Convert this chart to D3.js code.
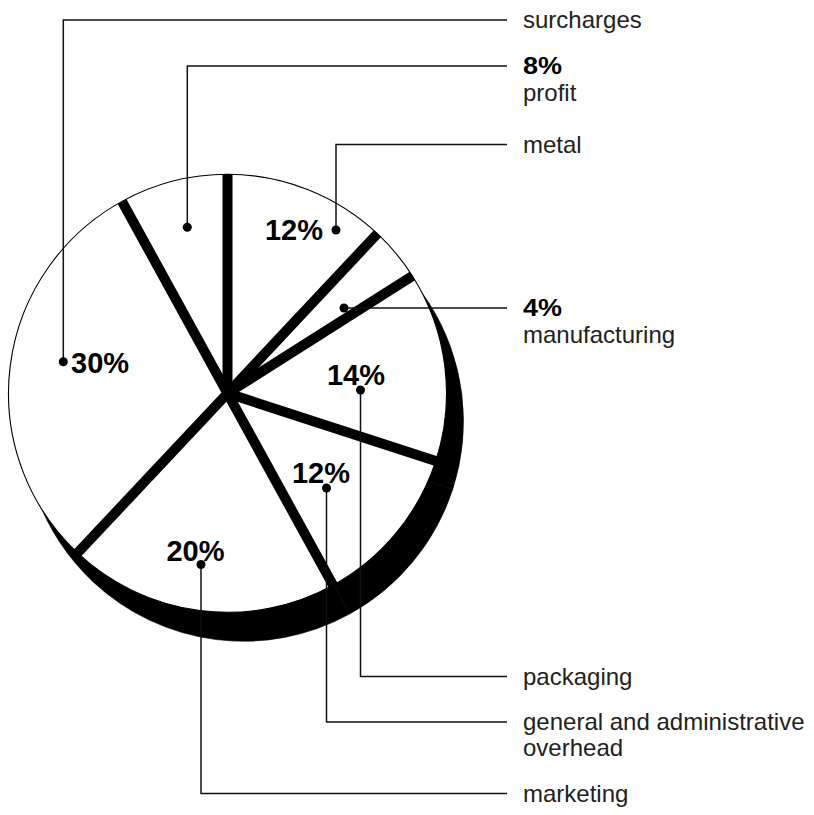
<!DOCTYPE html>
<html>
<head>
<meta charset="utf-8">
<script src="https://cdn.jsdelivr.net/npm/d3@7"></script>
<style>
  html, body { margin: 0; padding: 0; background: #fff; }
  svg { display: block; }
  text { font-family: "Liberation Sans", Arial, Helvetica, sans-serif; }
</style>
</head>
<body>
<svg id="chart" width="814" height="815"></svg>
<script>
// Cost breakdown, clockwise from 12 o'clock
const categories = [
  "metal",
  "manufacturing",
  "packaging",
  "general and administrative overhead",
  "marketing",
  "surcharges",
  "profit"
];
const shares = [12, 4, 14, 12, 20, 30, 8];
const percentSuffix = "%";

// Layout: pie geometry and callout placement
const center = [227.5, 393.3];
const radius = 219;
const shadowOffset = [16, 28];
const shadowRadius = 220;
const gapWidth = 10;
const textX = 523;
const leaderEndX = 507;

// dot: anchor dot of the callout; elbowY: y of the horizontal run;
// pct: where the bold share sits inside the slice, or null when it is set above the name
const callouts = [
  { dot: [336, 230],     elbowY: 144.5, pct: { x: 294,   y: 240, anchor: "middle" } },
  { dot: [344, 308],     elbowY: 308,   pct: null },
  { dot: [360.5, 390],   elbowY: 676.5, pct: { x: 356,   y: 385, anchor: "middle" } },
  { dot: [326.5, 488],   elbowY: 722,   pct: { x: 321,   y: 483, anchor: "middle" } },
  { dot: [201, 564.5],   elbowY: 793.5, pct: { x: 195.5, y: 561, anchor: "middle" } },
  { dot: [63.3, 361.7],  elbowY: 20,    pct: { x: 71,    y: 373, anchor: "start" } },
  { dot: [187.3, 227.3], elbowY: 66,    pct: null }
];

const svg = d3.select("#chart");

const pie = d3.pie().sort(null).value(d => d);
const arcs = pie(shares);

const arcMain = d3.arc().innerRadius(0).outerRadius(radius);
const arcShadow = d3.arc().innerRadius(0).outerRadius(shadowRadius);

// Dropped shadow beneath the pie
svg.append("g")
  .attr("transform", `translate(${center[0] + shadowOffset[0]},${center[1] + shadowOffset[1]})`)
  .selectAll("path")
  .data(arcs)
  .join("path")
  .attr("d", arcShadow)
  .attr("fill", "#000")
  .attr("stroke", "#000")
  .attr("stroke-width", 0.6);

const pieG = svg.append("g")
  .attr("transform", `translate(${center[0]},${center[1]})`);

// White slices
pieG.selectAll("path.slice")
  .data(arcs)
  .join("path")
  .attr("class", "slice")
  .attr("d", arcMain)
  .attr("fill", "#fff")
  .attr("stroke", "#000")
  .attr("stroke-width", 1.1);

// Thick black separators along every slice boundary
pieG.selectAll("line.sep")
  .data(arcs)
  .join("line")
  .attr("class", "sep")
  .attr("x1", 0)
  .attr("y1", 0)
  .attr("x2", d => d3.pointRadial(d.startAngle, radius)[0])
  .attr("y2", d => d3.pointRadial(d.startAngle, radius)[1])
  .attr("stroke", "#000")
  .attr("stroke-width", gapWidth)
  .attr("stroke-linecap", "butt");

// Callouts
const calloutG = svg.append("g");

function wrapLines(textSel, str, maxWidth) {
  const words = str.split(" ");
  const lines = [];
  let current = [];
  const probe = textSel.append("tspan");
  for (const w of words) {
    const trial = current.concat(w).join(" ");
    probe.text(trial);
    if (probe.node().getComputedTextLength() > maxWidth && current.length) {
      lines.push(current.join(" "));
      current = [w];
    } else {
      current.push(w);
    }
  }
  if (current.length) lines.push(current.join(" "));
  probe.remove();
  return lines;
}

categories.forEach((name, i) => {
  const c = callouts[i];
  const [dx, dy] = c.dot;
  const pctText = shares[i] + percentSuffix;

  // leader: vertical from the dot to the elbow, then right to the label column
  const path = d3.path();
  path.moveTo(dx, dy);
  path.lineTo(dx, c.elbowY);
  path.lineTo(leaderEndX, c.elbowY);
  calloutG.append("path")
    .attr("d", path.toString())
    .attr("fill", "none")
    .attr("stroke", "#111")
    .attr("stroke-width", 1.5);

  calloutG.append("circle")
    .attr("cx", dx)
    .attr("cy", dy)
    .attr("r", 4.5)
    .attr("fill", "#000");

  if (c.pct) {
    calloutG.append("text")
      .attr("x", c.pct.x)
      .attr("y", c.pct.y)
      .attr("text-anchor", c.pct.anchor)
      .attr("font-size", 29)
      .attr("font-weight", "bold")
      .attr("fill", "#000")
      .text(pctText);
  }

  const label = calloutG.append("text")
    .attr("font-size", 24)
    .attr("fill", "#222");

  let baseline;
  if (c.pct) {
    baseline = c.elbowY + 8;
  } else {
    calloutG.append("text")
      .attr("x", textX)
      .attr("y", c.elbowY + 7.5)
      .attr("font-size", 24)
      .attr("font-weight", "bold")
      .attr("fill", "#000")
      .attr("textLength", 39)
      .attr("lengthAdjust", "spacingAndGlyphs")
      .text(pctText);
    baseline = c.elbowY + 34.5;
  }

  const lines = wrapLines(label, name, 290);
  lines.forEach((ln, k) => {
    label.append("tspan")
      .attr("x", textX)
      .attr("y", baseline + k * 26)
      .text(ln);
  });
});
</script>
</body>
</html>
